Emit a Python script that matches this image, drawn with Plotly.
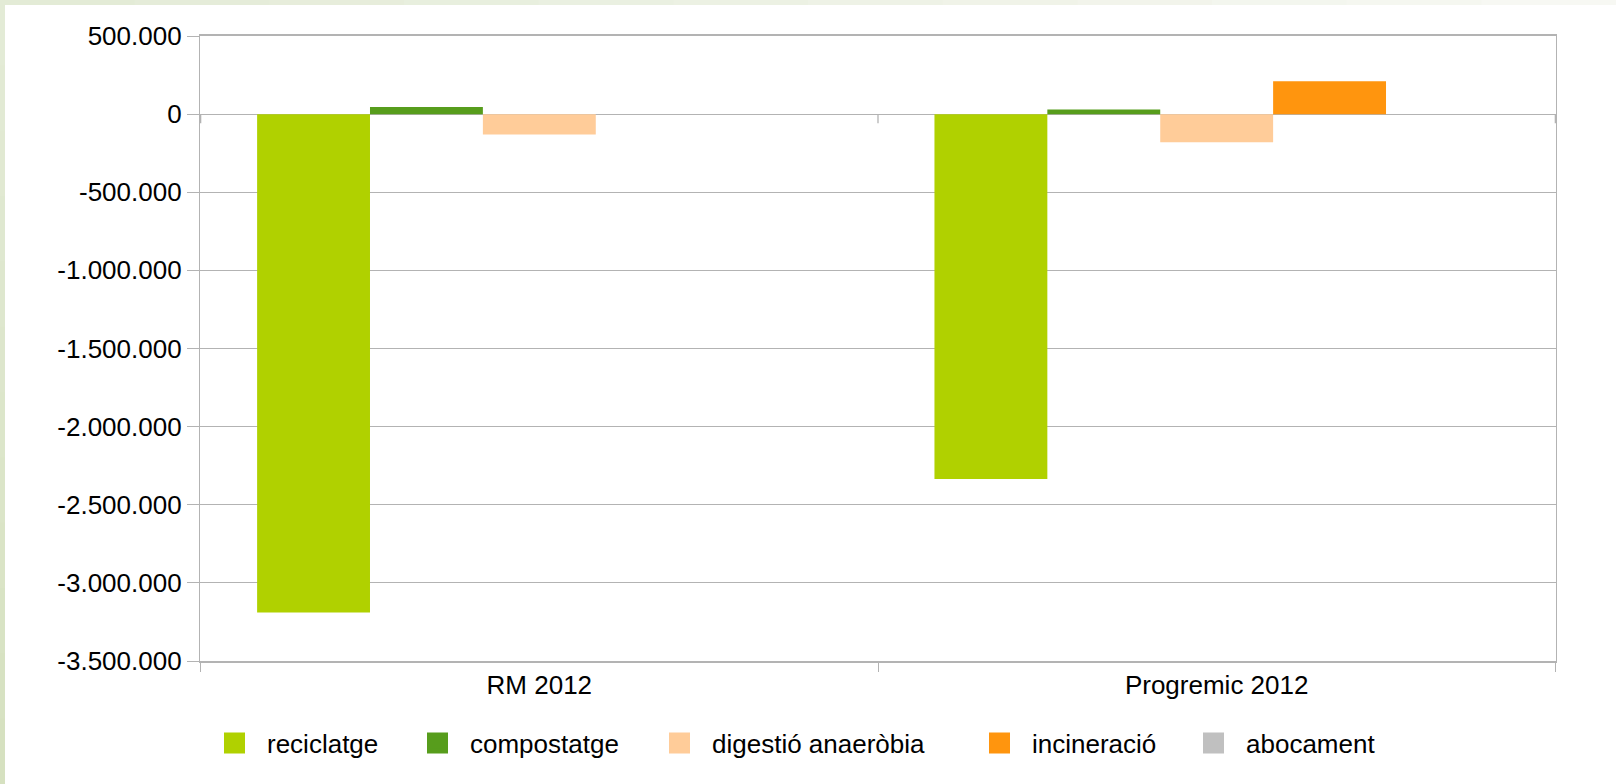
import plotly.graph_objects as go

categories = ["RM 2012", "Progremic 2012"]
series_names = ["reciclatge", "compostatge", "digestió anaeròbia", "incineració", "abocament"]
reciclatge = [-3190000, -2335000]
compostatge = [45000, 30000]
digestio = [-130000, -180000]
incineracio = [0, 210000]
abocament = [0, 0]
colors = ["#b0d100", "#579d1c", "#ffcc99", "#ff950e", "#c0c0c0"]
tick_vals = [500000, 0, -500000, -1000000, -1500000, -2000000, -2500000, -3000000, -3500000]
tick_text = ["500.000", "0", "-500.000", "-1.000.000", "-1.500.000", "-2.000.000", "-2.500.000", "-3.000.000", "-3.500.000"]

values = [reciclatge, compostatge, digestio, incineracio, abocament]
FONT = "Liberation Sans, Arial, sans-serif"
FS = 26
GRID = "#b3b3b3"

W, H = 1616, 784
L, R, T, B = 200, 60, 36, 123
pw, ph = W - L - R, H - T - B

def px_x(p):
    return (p - L) / pw

def px_y(p):
    return (H - B - p) / ph

# pixel centres of legend swatches (layout only)
legend_centres = [234.5, 437.5, 679.5, 999.5, 1213.5]
ITEMW = 55
legend_ids = ["legend", "legend2", "legend3", "legend4", "legend5"]

fig = go.Figure()
for name, vals, col in zip(series_names, values, colors):
    fig.add_trace(go.Bar(x=categories, y=vals, name=name, legendgroup=name, showlegend=False,
                         marker=dict(color=col, line=dict(width=0))))
for name, col, lid in zip(series_names, colors, legend_ids):
    fig.add_trace(go.Scatter(x=[None], y=[None], mode="markers", name=name, legendgroup=name,
                             legend=lid,
                             marker=dict(symbol="square", size=16, color=col,
                                         line=dict(width=6, color=col)),
                             hoverinfo="skip"))

shapes = []
n = 12
top_start = (0xe3, 0xeb, 0xd6)
top_end = (0xf7, 0xf8, 0xf3)
for i in range(n):
    t = i / (n - 1)
    c = tuple(round(a + (b - a) * t) for a, b in zip(top_start, top_end))
    shapes.append(dict(type="rect", xref="paper", yref="paper", layer="below",
                       x0=px_x(i * W / n), x1=px_x((i + 1) * W / n + 1),
                       y0=px_y(0), y1=px_y(5), fillcolor="rgb(%d,%d,%d)" % c, line=dict(width=0)))
left_start = (0xe3, 0xeb, 0xd6)
left_end = (0xd6, 0xe1, 0xc0)
for i in range(n):
    t = i / (n - 1)
    c = tuple(round(a + (b - a) * t) for a, b in zip(left_start, left_end))
    shapes.append(dict(type="rect", xref="paper", yref="paper", layer="below",
                       x0=px_x(0), x1=px_x(5),
                       y0=px_y(i * H / n), y1=px_y((i + 1) * H / n + 1),
                       fillcolor="rgb(%d,%d,%d)" % c, line=dict(width=0)))
for xb in [-0.5, 0.5, 1.5]:
    shapes.append(dict(type="line", xref="x", yref="y", ysizemode="pixel", yanchor=0,
                       x0=xb, x1=xb, y0=0, y1=-9, line=dict(color=GRID, width=1.3)))

legends = {}
for lid, cx in zip(legend_ids, legend_centres):
    legends[lid] = dict(orientation="h", x=px_x(cx - ITEMW / 2 - 5), xanchor="left",
                        y=px_y(743), yanchor="middle", borderwidth=0,
                        font=dict(family=FONT, size=FS, color="black"),
                        itemwidth=ITEMW, itemsizing="trace", bgcolor="rgba(0,0,0,0)")

fig.update_layout(
    width=W, height=H,
    margin=dict(l=L, r=R, t=T, b=B, autoexpand=False),
    paper_bgcolor="white", plot_bgcolor="white",
    barmode="group", bargap=0.1667, bargroupgap=0,
    font=dict(family=FONT, size=FS, color="black"),
    showlegend=True,
    shapes=shapes,
    xaxis=dict(type="category", tickson="boundaries", ticks="outside", ticklen=9,
               tickcolor=GRID, tickwidth=1.3, showgrid=False, showline=True,
               linecolor=GRID, linewidth=2, mirror=True, zeroline=False,
               tickfont=dict(family=FONT, size=FS, color="black")),
    yaxis=dict(range=[-3500000, 500000], tickvals=tick_vals, ticktext=tick_text,
               ticks="outside", ticklen=12, tickcolor=GRID, tickwidth=1.3,
               showgrid=True, gridcolor=GRID, gridwidth=1.3, zeroline=True,
               zerolinecolor=GRID, zerolinewidth=1.3, showline=True, linecolor=GRID,
               linewidth=1.3, mirror=True, ticklabelstandoff=0,
               tickfont=dict(family=FONT, size=FS, color="black")),
    **legends,
)

fig.write_html("out.html", config={"displayModeBar": False},
               post_script="document.body.style.margin='0px';")
